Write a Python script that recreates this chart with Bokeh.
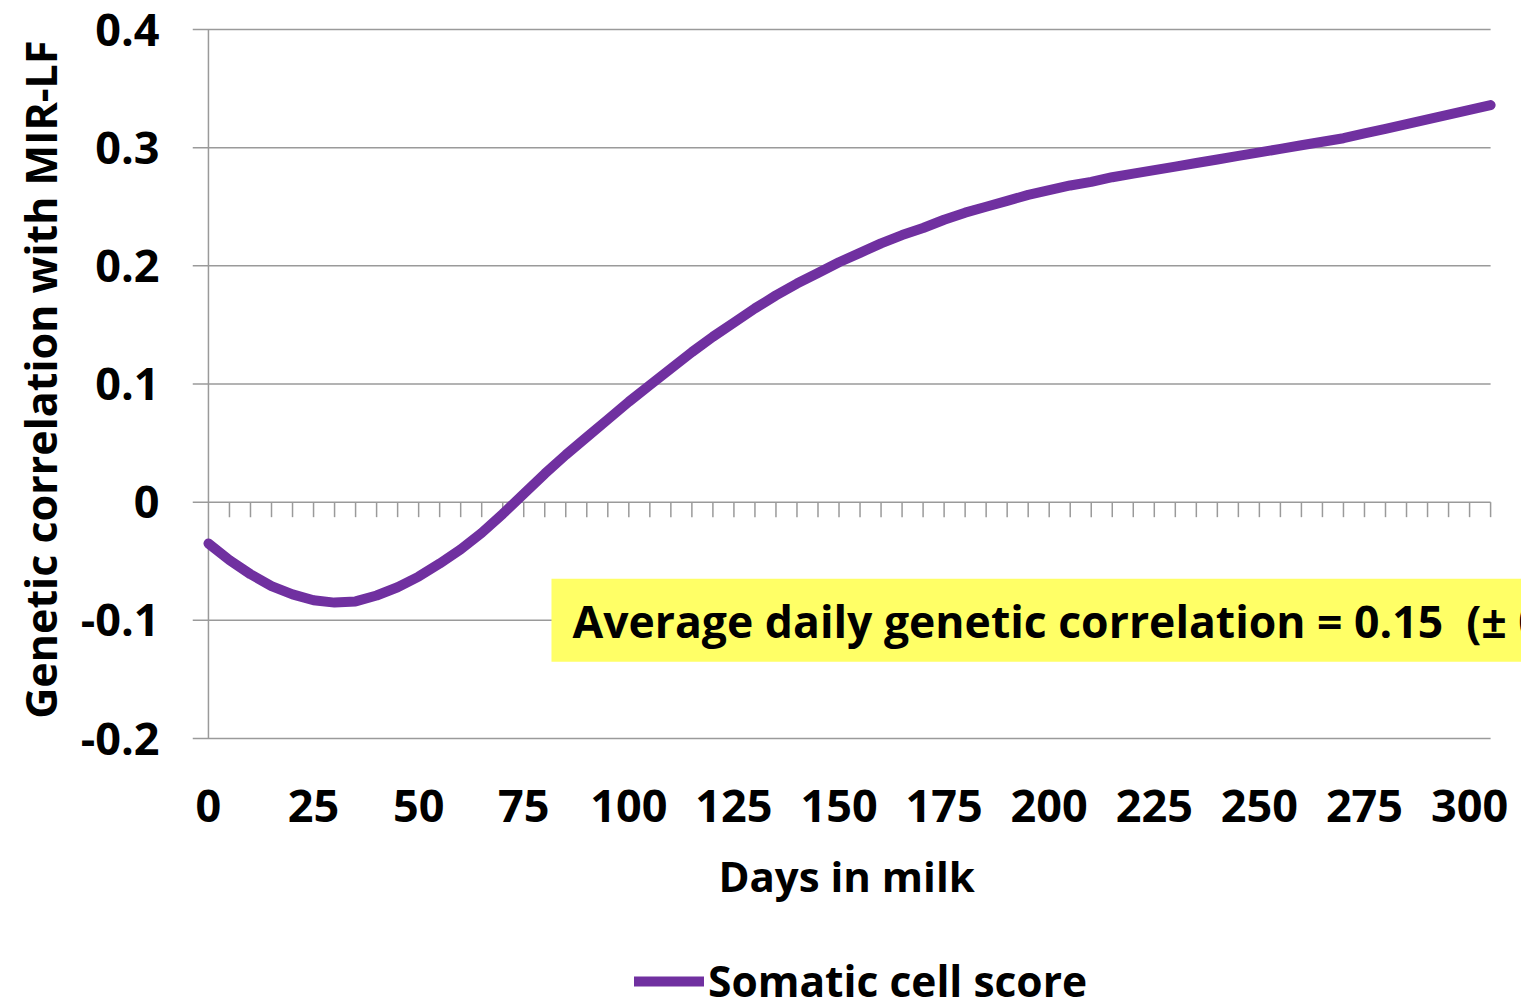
from bokeh.plotting import figure
from bokeh.models import Range1d, FixedTicker, Label, Legend, LegendItem, Title
from bokeh.core.properties import value
from bokeh.embed import file_html
from bokeh.resources import INLINE

# ---- data ----
days = list(range(0, 306, 5))
scs_corr = [
    -0.035, -0.049, -0.061, -0.071, -0.078, -0.083, -0.085, -0.084, -0.079, -0.072,
    -0.063, -0.052, -0.040, -0.026, -0.010, 0.007, 0.024, 0.040, 0.055, 0.070,
    0.085, 0.099, 0.113, 0.127, 0.140, 0.152, 0.164, 0.175, 0.185, 0.194,
    0.203, 0.211, 0.219, 0.226, 0.232, 0.239, 0.245, 0.250, 0.255, 0.260,
    0.264, 0.268, 0.271, 0.275, 0.278, 0.281, 0.284, 0.287, 0.290, 0.293,
    0.296, 0.299, 0.302, 0.305, 0.308, 0.312, 0.316, 0.320, 0.324, 0.328,
    0.332, 0.336,
]
series_name = "Somatic cell score"
y_ticks = [-0.2, -0.1, 0, 0.1, 0.2, 0.3, 0.4]
y_tick_labels = ["-0.2", "-0.1", "0", "0.1", "0.2", "0.3", "0.4"]
x_ticks = list(range(0, 301, 25))
x_tick_labels = [str(t) for t in x_ticks]
x_minor_ticks = list(range(5, 306, 5))
x_title = "Days in milk"
y_title = "Genetic correlation with MIR-LF"
note_text = "Average daily genetic correlation = 0.15 \u00a0(\u00b1 0.03)"

FONT = "Open Sans"
GRID = "#9a9a9a"
PURPLE = "#7030A0"

# scale: 1286 px for 305 days, 709 px for 0.6 units.  The frame is extended left
# (tick stubs), right (note box) and down (x labels, legend) so nothing is clipped.
PX_PER_DAY = 1286 / 305.0
PX_PER_UNIT = 709 / 0.6
FRAME_W, FRAME_H = 1333, 974
x_start = -16 / PX_PER_DAY
x_end = x_start + FRAME_W / PX_PER_DAY
y_top = y_ticks[-1] + 2 / PX_PER_UNIT
y_bottom = y_top - FRAME_H / PX_PER_UNIT

p = figure(width=1521, height=1001, output_backend="svg", toolbar_location=None,
           x_range=Range1d(x_start, x_end), y_range=Range1d(y_bottom, y_top),
           min_border_left=188, min_border_right=0, min_border_top=27,
           min_border_bottom=0)
p.outline_line_color = None
p.background_fill_color = "white"
p.border_fill_color = "white"
p.xaxis.visible = False
p.xgrid.grid_line_color = None
p.ygrid.grid_line_color = None

# y axis: tick labels (line and tick stubs are drawn as segments below)
ya = p.yaxis[0]
ya.ticker = FixedTicker(ticks=y_ticks)
ya.bounds = (y_ticks[0], y_ticks[-1])
ya.major_label_overrides = {t: l for t, l in zip(y_ticks, y_tick_labels)}
ya.axis_line_color = None
ya.major_tick_line_color = None
ya.minor_tick_line_color = None
ya.major_label_standoff = 27
ya.major_label_text_font = FONT
ya.major_label_text_font_style = "bold"
ya.major_label_text_font_size = "45px"
ya.major_label_text_color = "black"

# y title, aligned with the data area (not with the extended frame)
p.add_layout(Title(text=y_title, align="right", vertical_align="bottom", offset=13,
                   standoff=16, text_font=FONT, text_font_style="bold",
                   text_font_size="43px", text_color="black"), "left")

# horizontal gridlines (with their tick stubs left of the axis)
x_last = x_minor_ticks[-1]
p.segment(x0=[x_start] * len(y_ticks), y0=y_ticks, x1=[x_last] * len(y_ticks),
          y1=y_ticks, line_color=GRID, line_width=1.5)
# vertical axis line at day 0
p.segment(x0=[0], y0=[y_ticks[0]], x1=[0], y1=[y_ticks[-1]],
          line_color=GRID, line_width=1.5)
# small tick marks hanging from the zero line, every 5 days
tick_len = 15 / PX_PER_UNIT
p.segment(x0=x_minor_ticks, y0=[0] * len(x_minor_ticks),
          x1=x_minor_ticks, y1=[-tick_len] * len(x_minor_ticks),
          line_color=GRID, line_width=1.5)

# x tick labels and title below the -0.2 line
x_lab_y = y_ticks[0] - 67 / PX_PER_UNIT
p.text(x=x_ticks, y=[x_lab_y] * len(x_ticks), text=x_tick_labels,
       text_align="center", text_baseline="middle", text_font=value(FONT),
       text_font_style="bold", text_font_size="45px", text_color="black")
x_title_y = y_ticks[0] - 137 / PX_PER_UNIT
p.add_layout(Label(x=x_last / 2 - 0.7, y=x_title_y, text=x_title, text_align="center",
                   text_baseline="middle", text_font=FONT, text_font_style="bold",
                   text_font_size="42px", text_color="black"))

line_r = p.line(days, scs_corr, line_color=PURPLE, line_width=10,
                line_cap="round", line_join="round")

note = Label(x=81.6, y=-0.1, text=note_text, text_align="left",
             text_baseline="middle", text_font=FONT, text_font_style="bold",
             text_font_size="44.5px", text_color="black",
             background_fill_color="#FFFF66", padding=(21, 11))
p.add_layout(note)

legend = Legend(items=[LegendItem(label=series_name, renderers=[line_r])],
                location=(442, -8), orientation="horizontal",
                border_line_color=None, background_fill_alpha=0,
                label_text_font=FONT, label_text_font_style="bold",
                label_text_font_size="42.5px", label_text_color="black",
                glyph_width=70, glyph_height=40, label_standoff=4,
                padding=0, spacing=0, margin=0)
p.add_layout(legend)

open("out.html", "w").write(file_html(p, INLINE))
